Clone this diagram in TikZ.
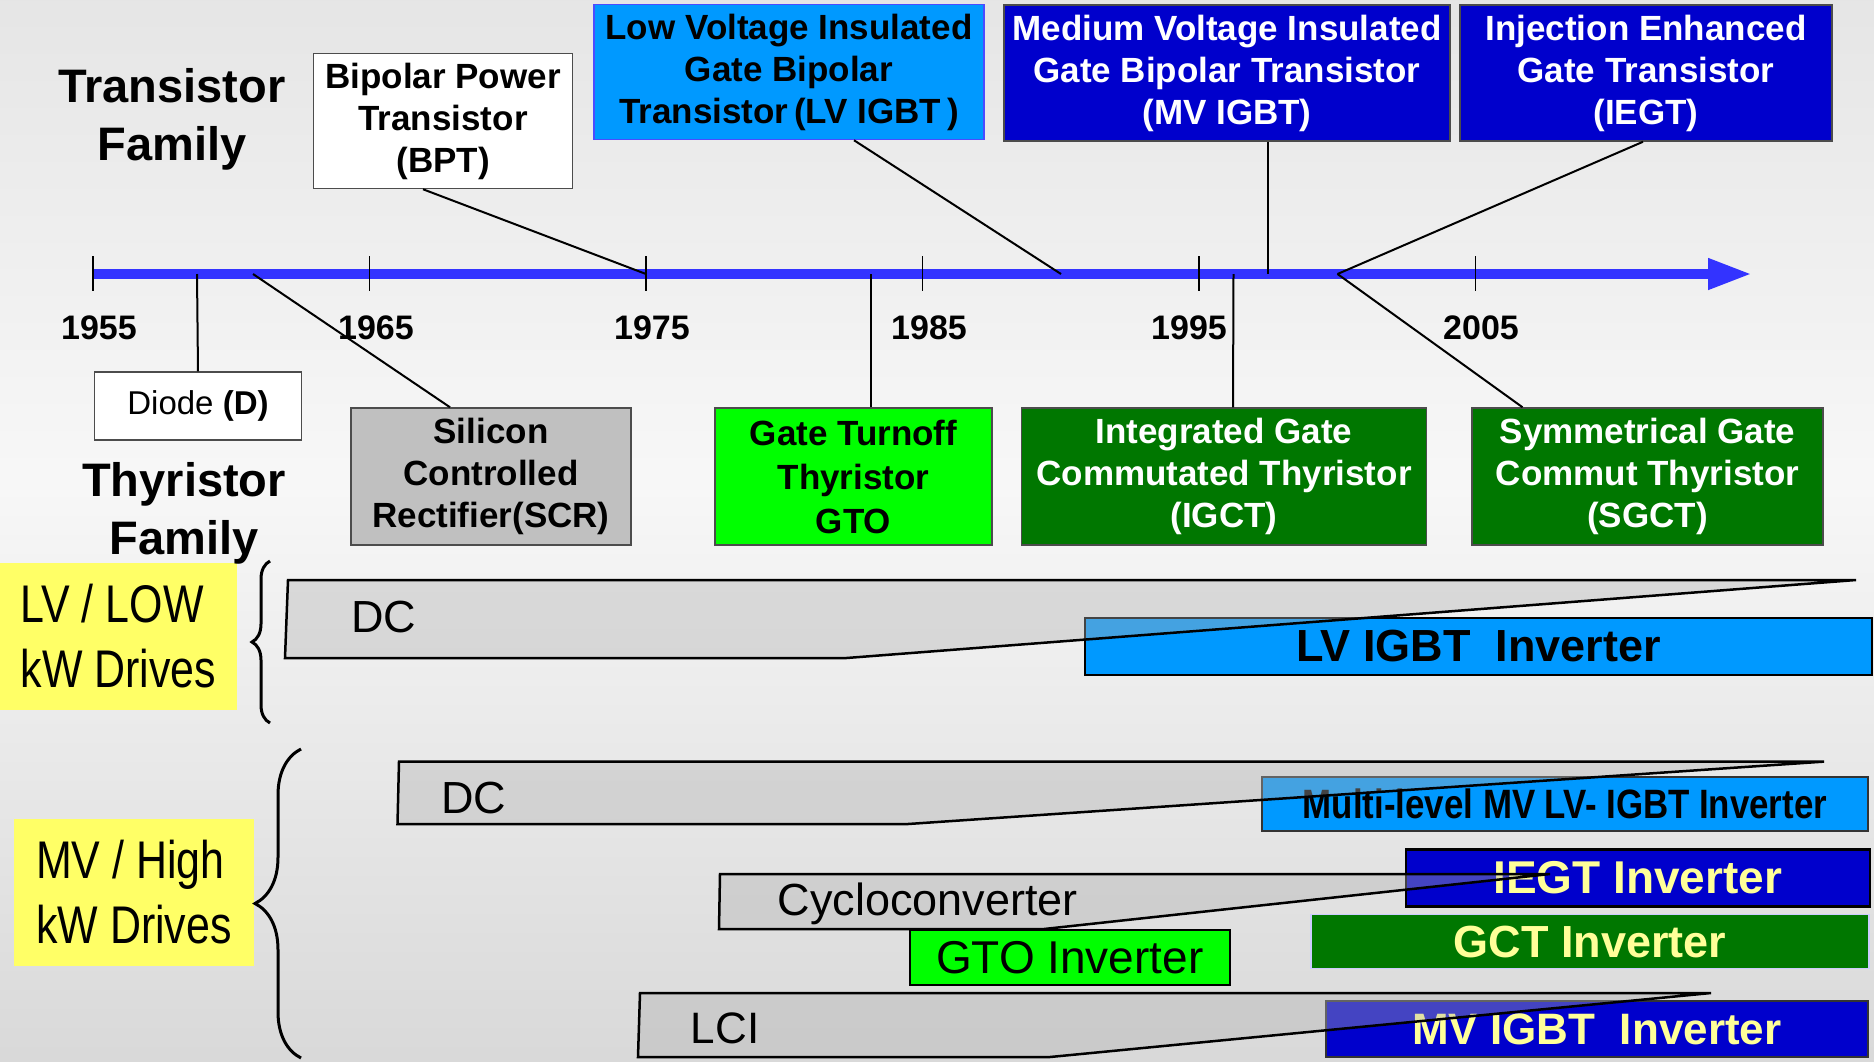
\documentclass[tikz,border=0pt]{standalone}
\usepackage{fontspec}
\setmainfont{Liberation Sans}
\newfontfamily\narrowsf[FakeStretch=0.81]{Liberation Sans}
\newfontfamily\narrowbf[FakeStretch=0.85]{Liberation Sans}
\usetikzlibrary{arrows.meta,decorations.pathreplacing}

\definecolor{axisblue}{RGB}{51,51,255}
\definecolor{lvblue}{RGB}{0,153,255}
\definecolor{mvblue}{RGB}{0,0,204}
\definecolor{gctgreen}{RGB}{0,119,0}
\definecolor{gtogreen}{RGB}{0,255,0}
\definecolor{scrgray}{RGB}{192,192,192}
\definecolor{labelyellow}{RGB}{255,255,102}
\definecolor{invtext}{RGB}{255,255,153}

\begin{document}
\begin{tikzpicture}[x=1pt, y=-1pt,
	devbox/.style={draw=gray!60!black, line width=1.5pt, align=center, inner sep=0pt,
		font=\fontsize{35}{42}\selectfont\bfseries},
	family/.style={align=center, font=\fontsize{47}{58}\selectfont\bfseries},
	year/.style={font=\fontsize{34}{34}\selectfont\bfseries},
	tick/.style={line width=1.5pt},
	link/.style={line width=2pt},
	drivelabel/.style={fill=labelyellow, align=left, inner sep=0pt,
		minimum height=147pt, font=\narrowsf\fontsize{53}{65}\selectfont},
	invbar/.style={draw=black, line width=2.5pt, inner sep=0pt, font=\fontsize{45}{45}\selectfont\bfseries},
	trend/.style={draw=black, line width=2.5pt, fill=black!30, fill opacity=0.385},
	trendtext/.style={font=\fontsize{45}{45}\selectfont},
	drivebrace/.style={decorate, line width=3pt},
	]
	\useasboundingbox (0,0) rectangle (1874,1061);
	% Background
	\fill [top color=gray!20, bottom color=white!97!black] (0,0) rectangle (1874,480);
	\fill [top color=white!97!black, bottom color=gray!30] (0,480) rectangle (1874,1061);
	
	% Drive classes
	\node [drivelabel, minimum width=237pt] (lvdrv) at (118.5,636.5) {LV / LOW\\kW Drives};
	\node [drivelabel, minimum width=240pt] (mvdrv) at (134,892.5) {MV / High\\kW Drives};
	\draw [drivebrace, decoration={brace, amplitude=18pt}] (270,723) -- (270,561);
	\draw [drivebrace, decoration={brace, amplitude=46pt}] (301,1058) -- (301,749);
	
	% Inverters
	\node [invbar, fill=lvblue, minimum width=787pt, minimum height=57pt] (lvinv) at (1478.5,646.3) {LV IGBT\ \ Inverter};
	\node [invbar, fill=lvblue, draw=black!80, minimum width=606pt, minimum height=54pt,
		font=\narrowbf\fontsize{41}{41}\selectfont\bfseries] (mlinv) at (1565,804) {Multi-level MV LV- IGBT Inverter};
	\node [invbar, fill=mvblue, text=invtext, minimum width=464pt, minimum height=57pt,
		font=\fontsize{46}{46}\selectfont\bfseries] (iegtinv) at (1637.8,878) {IEGT Inverter};
	\node [invbar, fill=gctgreen, draw=blue!20, line width=1.5pt, text=invtext, minimum width=558pt, minimum height=54pt] (gctinv) at (1590,941.7) {GCT Inverter};
	\node [invbar, fill=gtogreen, minimum width=320pt, minimum height=55pt,
		font=\fontsize{46}{46}\selectfont] (gtoinv) at (1069.8,957.5) {GTO Inverter};
	\node [invbar, fill=mvblue, draw=black!80, text=invtext, minimum width=542pt, minimum height=56pt,
		font=\fontsize{44}{44}\selectfont\bfseries] (mvinv) at (1596.8,1029) {MV IGBT\ \ Inverter};
	
	% Older converters fading out
	\draw [trend] (288,580) -- (1856,580) -- (846.5,658) -- (285,658) -- cycle;
	\draw [trend] (399,761.6) -- (1824,761.6) -- (908,824) -- (397.5,824) -- cycle;
	\draw [trend] (720,874) -- (1550,874) -- (1044,929) -- (719,929) -- cycle;
	\draw [trend] (640,993) -- (1711,993) -- (1050,1057) -- (638,1057) -- cycle;
	\node [trendtext] (lvdc) at (384,617) {DC};
	\node [trendtext] (mvdc) at (473.6,797.5) {DC};
	\node [trendtext, anchor=west, inner sep=0pt] (cyclo) at (777.6,904) {Cycloconverter};
	\node [trendtext, font=\fontsize{44}{44}\selectfont] (lci) at (725,1028) {LCI};
	
	% Time axis
	\coordinate (ax0)   at (93,274);
	\coordinate (axend) at (1752,274);
	\draw [axisblue, line width=10pt, -{Triangle[length=44pt,width=29pt]}] (ax0) -- (axend);
	\foreach \yr/\xp/\lx in {1955/93/99, 1965/369.5/376, 1975/646/652, 1985/922.5/929, 1995/1199/1189, 2005/1475.5/1481}{
		\draw [tick] (\xp,256) -- (\xp,291);
		\node [year] (y\yr) at (\lx,328) {\yr};
	}
	\coordinate (tD)    at (197,274);
	\coordinate (tSCR)  at (253,274);
	\coordinate (tBPT)  at (646,274);
	\coordinate (tGTO)  at (870.5,274);
	\coordinate (tLV)   at (1061,274);
	\coordinate (tIGCT) at (1233.5,274);
	\coordinate (tMV)   at (1268,274);
	\coordinate (tIE)   at (1337.5,274);
	
	% Transistor family
	\node [family] (trfam) at (172,119) {Transistor\\Family};
	\node [devbox, fill=white, minimum width=259pt, minimum height=135pt] (bpt) at (443,121) {Bipolar Power\\Transistor\\(BPT)};
	\node [devbox, fill=lvblue, draw=blue!70, minimum width=390pt, minimum height=135pt] (lvigbt) at (789,72) {Low Voltage Insulated\\Gate Bipolar\\Transistor\,(LV IGBT\,)};
	\node [devbox, fill=mvblue, text=white, minimum width=446pt, minimum height=136pt] (mvigbt) at (1227,73) {Medium Voltage Insulated\\Gate Bipolar Transistor\\(MV IGBT)};
	\node [devbox, fill=mvblue, text=white, minimum width=372pt, minimum height=136pt] (iegt) at (1646,73) {Injection Enhanced\\Gate Transistor\\(IEGT)};
	
	% Thyristor family
	\node [family] (thfam) at (184,513) {Thyristor\\Family};
	\node [devbox, fill=white, minimum width=207pt, minimum height=68pt,
		font=\fontsize{33}{33}\selectfont] (diode) at (198,406) {Diode \textbf{(D)}};
	\node [devbox, fill=scrgray, minimum width=280pt, minimum height=137pt] (scr) at (491,476.5) {Silicon\\Controlled\\Rectifier(SCR)};
	\node [devbox, fill=gtogreen, minimum width=277pt, minimum height=137pt,
		font=\fontsize{35}{44}\selectfont\bfseries] (gto) at (853.5,476.5) {Gate Turnoff\\Thyristor\\GTO};
	\node [devbox, fill=gctgreen, text=white, minimum width=405pt, minimum height=137pt] (igct) at (1224,476.5) {Integrated Gate\\Commutated Thyristor\\(IGCT)};
	\node [devbox, fill=gctgreen, text=white, minimum width=351pt, minimum height=137pt] (sgct) at (1647.5,476.5) {Symmetrical Gate\\Commut Thyristor\\(SGCT)};
	
	% Links to the axis
	\draw [link] ([xshift=-20pt]bpt.south)   -- (tBPT);
	\draw [link] ([xshift=65pt]lvigbt.south) -- (tLV);
	\draw [link] ([xshift=41pt]mvigbt.south) -- (tMV);
	\draw [link] ([xshift=-3pt]iegt.south)   -- (tIE);
	\draw [link] (diode.north)               -- (tD);
	\draw [link] ([xshift=-41pt]scr.north)   -- (tSCR);
	\draw [link] ([xshift=17pt]gto.north)    -- (tGTO);
	\draw [link] ([xshift=9pt]igct.north)    -- (tIGCT);
	\draw [link] ([xshift=-125pt]sgct.north) -- (tIE);
\end{tikzpicture}
\end{document}
